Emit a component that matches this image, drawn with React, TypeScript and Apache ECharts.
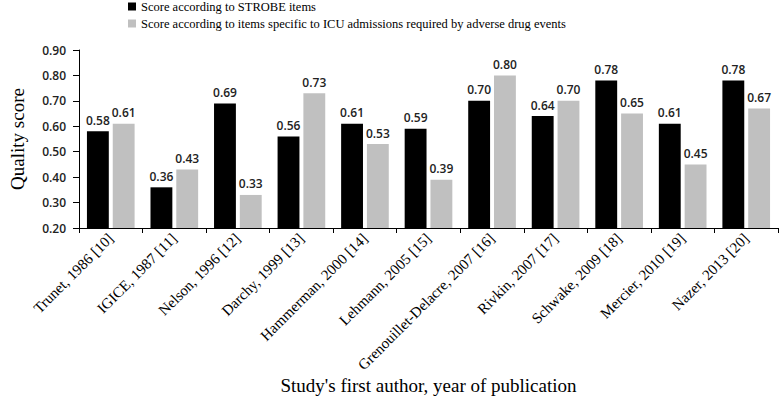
import React, { useEffect, useRef } from "react";
import * as echarts from "echarts";

const categories = [
  "Trunet, 1986 [10]",
  "IGICE, 1987 [11]",
  "Nelson, 1996 [12]",
  "Darchy, 1999 [13]",
  "Hammerman, 2000 [14]",
  "Lehmann, 2005 [15]",
  "Grenouillet-Delacre, 2007 [16]",
  "Rivkin, 2007 [17]",
  "Schwake, 2009 [18]",
  "Mercier, 2010 [19]",
  "Nazer, 2013 [20]",
];
const strobeScores = [0.58, 0.36, 0.69, 0.56, 0.61, 0.59, 0.70, 0.64, 0.78, 0.61, 0.78];
const icuScores = [0.61, 0.43, 0.33, 0.73, 0.53, 0.39, 0.80, 0.70, 0.65, 0.45, 0.67];
const seriesNames = [
  "Score according to STROBE items",
  "Score according to items specific to ICU admissions required by adverse drug events",
];

export default function App() {
  const ref = useRef<HTMLDivElement>(null);
  useEffect(() => {
    if (!ref.current) return;
    const chart = echarts.init(ref.current, null, { renderer: "svg" });
    const labelStyle = {
      show: true,
      position: "top" as const,
      distance: 5,
      formatter: (p: any) => p.value.toFixed(2),
      fontFamily: "Open Sans",
      fontWeight: 600,
      fontSize: 12,
      color: "#222",
    };
    chart.setOption({
      animation: false,
      backgroundColor: "#fff",
      legend: {
        orient: "vertical",
        left: 128,
        top: 0,
        padding: 0,
        itemWidth: 8,
        itemHeight: 8,
        itemGap: 4,
        icon: "rect",
        textStyle: { fontFamily: "Liberation Serif", fontSize: 12.5, color: "#000" },
        data: seriesNames,
      },
      grid: { left: 76, right: 1, top: 50, bottom: 174, containLabel: false },
      xAxis: {
        type: "category",
        data: categories,
        axisLine: { lineStyle: { color: "#000", width: 1 } },
        axisTick: { show: true, length: 5, lineStyle: { color: "#000" } },
        axisLabel: {
          interval: 0,
          rotate: 45,
          margin: 8,
          fontFamily: "Liberation Serif",
          fontSize: 15,
          color: "#000",
        },
        name: "Study's first author, year of publication",
        nameLocation: "middle",
        nameGap: 147,
        nameTextStyle: { fontFamily: "Liberation Serif", fontSize: 19, color: "#000" },
      },
      yAxis: {
        type: "value",
        min: 0.2,
        max: 0.9,
        interval: 0.1,
        splitLine: { show: false },
        axisLine: { show: true, lineStyle: { color: "#000", width: 1 } },
        axisTick: { show: true, length: 6, lineStyle: { color: "#000" } },
        axisLabel: {
          formatter: (v: number) => v.toFixed(2),
          fontFamily: "Open Sans",
          fontWeight: 600,
          fontSize: 12,
          color: "#222",
          margin: 13,
        },
        name: "Quality score",
        nameLocation: "middle",
        nameGap: 52,
        nameRotate: 90,
        nameTextStyle: { fontFamily: "Liberation Serif", fontSize: 19, color: "#000" },
      },
      series: [
        {
          name: seriesNames[0],
          type: "bar",
          data: strobeScores,
          itemStyle: { color: "#000" },
          barGap: "18%",
          barCategoryGap: "25%",
          label: labelStyle,
        },
        {
          name: seriesNames[1],
          type: "bar",
          data: icuScores,
          itemStyle: { color: "#c0c0c0" },
          barGap: "18%",
          barCategoryGap: "25%",
          label: labelStyle,
        },
      ],
    });
    return () => chart.dispose();
  }, []);
  return <div ref={ref} style={{ width: 779, height: 402, position: "absolute", left: 0, top: 0 }} />;
}
